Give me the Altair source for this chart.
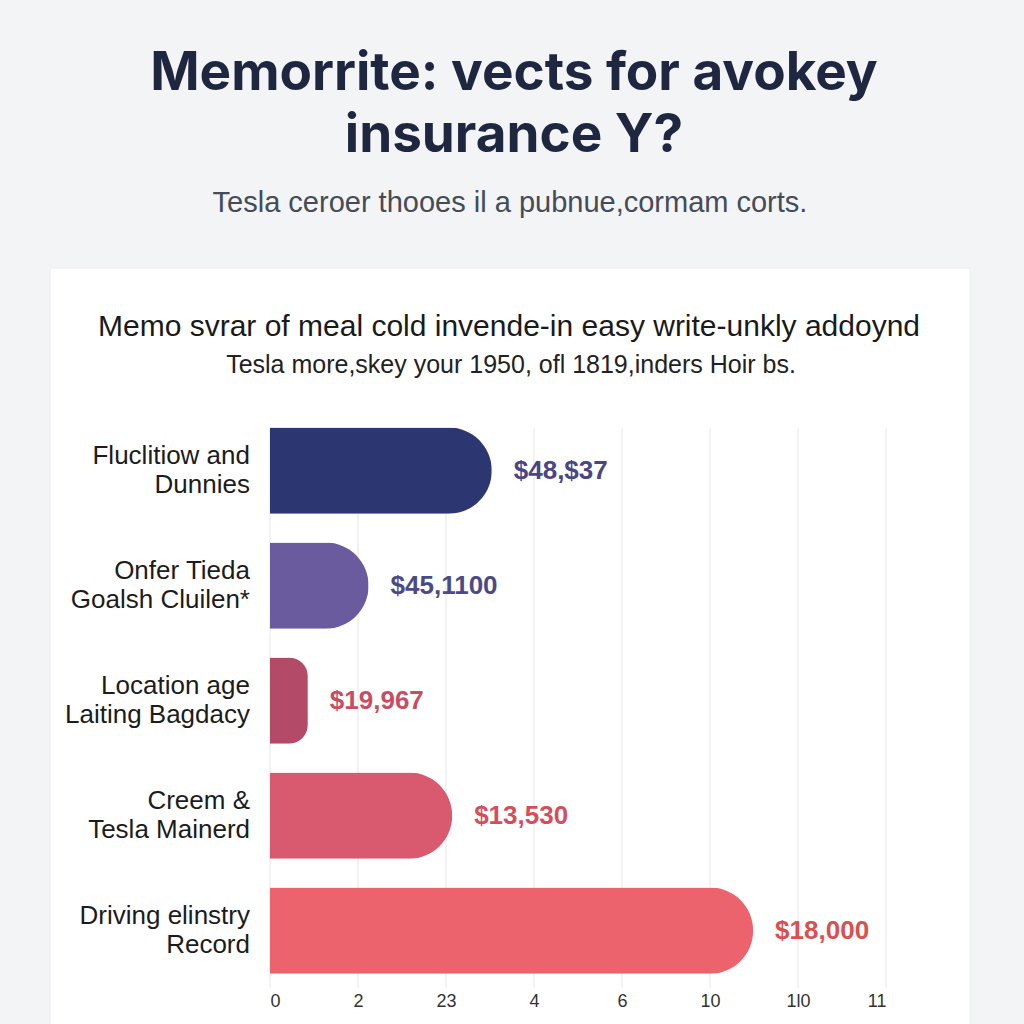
import altair as alt
import pandas as pd

categories = [
    "Fluclitiow and\nDunnies",
    "Onfer Tieda\nGoalsh Cluilen*",
    "Location age\nLaiting Bagdacy",
    "Creem &\nTesla Mainerd",
    "Driving elinstry\nRecord",
]
values = [2.52, 1.12, 0.43, 2.07, 5.49]
value_labels = ["$48,$37", "$45,1100", "$19,967", "$13,530", "$18,000"]
bar_colors = ["#2c3670", "#6a5a9e", "#b24a68", "#d95a6e", "#ec636d"]
label_colors = ["#4a4684", "#4b4a84", "#c94d62", "#d44f5e", "#d9504f"]
tick_values = [0, 1, 2, 3, 4, 5, 6, 7]
tick_labels = ["0", "2", "23", "4", "6", "10", "1l0", "11"]

main_title = ["Memorrite: vects for avokey", "insurance Y?"]
main_subtitle = "Tesla ceroer thoоеѕ il a pubnue,cormam corts."
inner_title = "Memo svrar of meal cold invende-in easy write-unkly addoynd"
inner_subtitle = "Tesla more,skey your 1950, ofl 1819,inders Hoir bs."

df = pd.DataFrame({
    "cat": categories,
    "val": values,
    "lab": value_labels,
    "bc": bar_colors,
    "lc": label_colors,
})
grid_df = pd.DataFrame({"val": tick_values})
one = pd.DataFrame({"k": [0]})

W, H = 616, 575
LEFT, TOP = 270, 413

label_expr = "[" + ",".join("'" + t + "'" for t in tick_labels) + "][datum.value]"

x_scale = alt.Scale(domain=[0, 7], nice=False, zero=True)
y_enc = alt.Y("cat:N", sort=categories, axis=None,
              scale=alt.Scale(paddingInner=0.25, paddingOuter=0.125))
x_enc = alt.X("val:Q", scale=x_scale,
              axis=alt.Axis(values=tick_values, labelExpr=label_expr, title=None,
                            domain=False, ticks=False, grid=False, zindex=2,
                            labelFontSize=18, labelColor="#333333",
                            labelFont="Liberation Sans", labelPadding=4))

card = alt.Chart(one).mark_rect(color="#ffffff", stroke="#ececef", strokeWidth=1).encode(
    x=alt.value(50 - LEFT), x2=alt.value(970 - LEFT),
    y=alt.value(268 - TOP), y2=alt.value(1060 - TOP),
)

grid = alt.Chart(grid_df).mark_rule(color="#e4e4e6", strokeWidth=1).encode(
    x=alt.X("val:Q", scale=x_scale),
    y=alt.value(15), y2=alt.value(H),
)

bars = alt.Chart(df).mark_bar(cornerRadiusEnd=43).encode(
    x=x_enc,
    y=y_enc,
    color=alt.Color("bc:N", scale=None),
)

vals = alt.Chart(df).mark_text(align="left", baseline="middle", dx=22,
                               fontSize=26, fontWeight="bold",
                               font="Liberation Sans").encode(
    x="val:Q",
    y=alt.Y("cat:N", sort=categories),
    text="lab:N",
    color=alt.Color("lc:N", scale=None),
)

cats = alt.Chart(df).mark_text(align="right", baseline="middle", lineBreak="\n",
                               lineHeight=29, fontSize=26, color="#1c1c1c", dy=-15,
                               font="Liberation Sans").encode(
    x=alt.value(250 - LEFT),
    y=alt.Y("cat:N", sort=categories),
    text="cat:N",
)

def txt(s, cx, cy, size, color, weight="normal", font="Liberation Sans"):
    return alt.Chart(one).mark_text(align="center", baseline="middle", fontSize=size,
                                    color=color, fontWeight=weight, font=font).encode(
        x=alt.value(cx - LEFT), y=alt.value(cy - TOP), text=alt.value(s))

t1 = txt(main_title[0], 514, 74, 53, "#1f2640", "bold", "Inter")
t2 = txt(main_title[1], 514, 136, 53, "#1f2640", "bold", "Inter")
t3 = txt(main_subtitle, 510, 203, 29, "#454b57")
t4 = txt(inner_title, 509, 327, 30, "#1a1a1a")
t5 = txt(inner_subtitle, 511, 365, 25, "#222222")

chart = alt.layer(card, grid, bars, vals, cats, t1, t2, t3, t4, t5).properties(
    width=W, height=H,
    autosize=alt.AutoSizeParams(type="none"),
    padding={"left": LEFT, "top": TOP, "right": 1024 - LEFT - W, "bottom": 1024 - TOP - H},
    background="#f3f4f6",
).configure_view(stroke=None)

chart.save("out.html", embed_options={"renderer": "svg", "actions": False})
